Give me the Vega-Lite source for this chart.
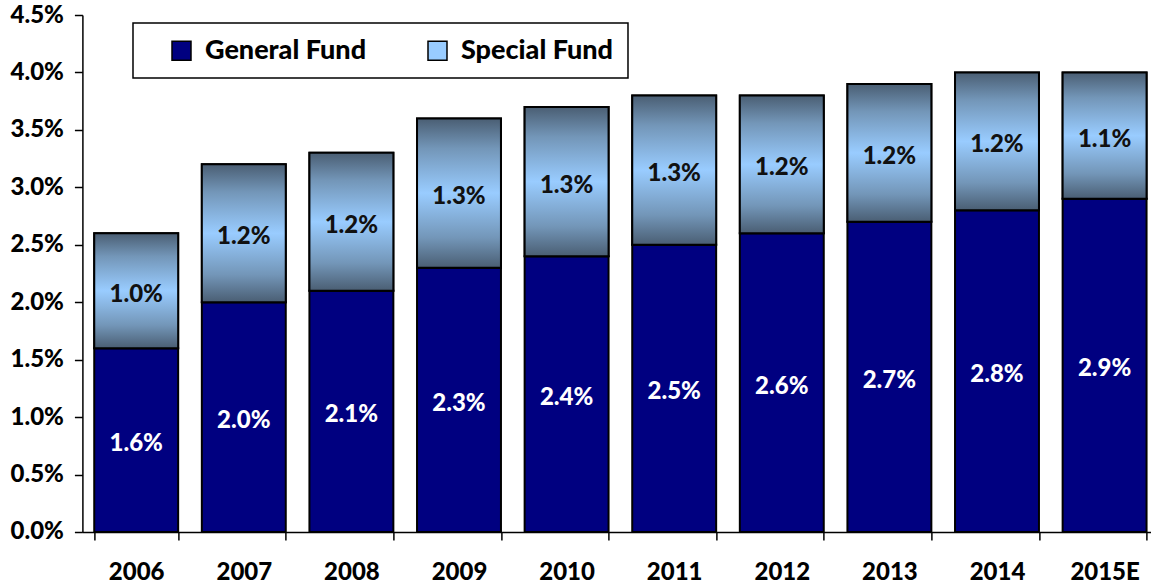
{
  "$schema": "https://vega.github.io/schema/vega-lite/v6.json",
  "autosize": "none",
  "width": 1076,
  "height": 517,
  "padding": {"left": 82.4, "top": 15, "right": 0, "bottom": 54},
  "background": "white",
  "config": {"view": {"stroke": null}},
  "data": {
    "values": [
      {"year": "2006", "fund": "General Fund", "value": 1.6, "order": 1},
      {"year": "2006", "fund": "Special Fund", "value": 1.0, "order": 2},
      {"year": "2007", "fund": "General Fund", "value": 2.0, "order": 1},
      {"year": "2007", "fund": "Special Fund", "value": 1.2, "order": 2},
      {"year": "2008", "fund": "General Fund", "value": 2.1, "order": 1},
      {"year": "2008", "fund": "Special Fund", "value": 1.2, "order": 2},
      {"year": "2009", "fund": "General Fund", "value": 2.3, "order": 1},
      {"year": "2009", "fund": "Special Fund", "value": 1.3, "order": 2},
      {"year": "2010", "fund": "General Fund", "value": 2.4, "order": 1},
      {"year": "2010", "fund": "Special Fund", "value": 1.3, "order": 2},
      {"year": "2011", "fund": "General Fund", "value": 2.5, "order": 1},
      {"year": "2011", "fund": "Special Fund", "value": 1.3, "order": 2},
      {"year": "2012", "fund": "General Fund", "value": 2.6, "order": 1},
      {"year": "2012", "fund": "Special Fund", "value": 1.2, "order": 2},
      {"year": "2013", "fund": "General Fund", "value": 2.7, "order": 1},
      {"year": "2013", "fund": "Special Fund", "value": 1.2, "order": 2},
      {"year": "2014", "fund": "General Fund", "value": 2.8, "order": 1},
      {"year": "2014", "fund": "Special Fund", "value": 1.2, "order": 2},
      {"year": "2015E", "fund": "General Fund", "value": 2.9, "order": 1},
      {"year": "2015E", "fund": "Special Fund", "value": 1.1, "order": 2}
    ]
  },
  "transform": [
    {"stack": "value", "groupby": ["year"], "sort": [{"field": "order", "order": "ascending"}], "as": ["v0", "v1"]},
    {"calculate": "(datum.v0 + datum.v1) / 2", "as": "mid"},
    {"calculate": "format(datum.value, '.1f') + '%'", "as": "label"}
  ],
  "encoding": {
    "x": {
      "field": "year",
      "type": "nominal",
      "sort": null,
      "scale": {"paddingInner": 0.22, "paddingOuter": 0.11},
      "axis": {
        "title": null,
        "labelAngle": 0,
        "labelFont": "Lato",
        "labelFontWeight": 900,
        "labelFontSize": 24,
        "labelColor": "black",
        "labelPadding": 21,
        "domainColor": "black",
        "domainWidth": 1.5,
        "tickColor": "black",
        "tickWidth": 1.5,
        "tickSize": 8,
        "tickBand": "extent"
      }
    }
  },
  "layer": [
    {
      "mark": {"type": "bar", "stroke": "black", "strokeWidth": 2},
      "encoding": {
        "y": {
          "field": "v1",
          "type": "quantitative",
          "scale": {"domain": [0, 4.5], "nice": false},
          "axis": {
            "title": null,
            "values": [0, 0.5, 1, 1.5, 2, 2.5, 3, 3.5, 4, 4.5],
            "labelExpr": "format(datum.value, '.1f') + '%'",
            "grid": false,
            "labelFont": "Lato",
            "labelFontWeight": 900,
            "labelFontSize": 24,
            "labelColor": "black",
            "labelPadding": 11,
            "domainColor": "black",
            "domainWidth": 1.5,
            "tickColor": "black",
            "tickWidth": 1.5,
            "tickSize": 8
          }
        },
        "y2": {"field": "v0"},
        "color": {
          "field": "fund",
          "type": "nominal",
          "scale": {"domain": ["General Fund", "Special Fund"], "range": ["#000080", "#99CCFF"]},
          "legend": {
            "title": null,
            "orient": "none",
            "legendX": 50.6,
            "legendY": 8,
            "direction": "horizontal",
            "fillColor": "white",
            "strokeColor": "black",
            "padding": 14,
            "symbolOffset": 21,
            "symbolType": "square",
            "symbolSize": 361,
            "symbolStrokeColor": "black",
            "symbolStrokeWidth": 1.5,
            "symbolOpacity": 1,
            "labelFont": "Lato",
            "labelFontSize": 27,
            "labelFontWeight": 900,
            "labelColor": "black",
            "labelOffset": 10,
            "labelLimit": 300,
            "columnPadding": 36,
            "encode": {"legend": {"update": {"strokeWidth": {"value": 1.5}}}}
          }
        }
      }
    },
    {
      "transform": [{"filter": "datum.fund == 'Special Fund'"}],
      "mark": {
        "type": "bar",
        "stroke": "black",
        "strokeWidth": 2,
        "fill": {
          "gradient": "linear",
          "x1": 0, "y1": 0, "x2": 0, "y2": 1,
          "stops": [
            {"offset": 0, "color": "#4A5E73"},
            {"offset": 0.2, "color": "#7396B8"},
            {"offset": 0.5, "color": "#99CCFF"},
            {"offset": 0.8, "color": "#7396B8"},
            {"offset": 1, "color": "#4A5E73"}
          ]
        }
      },
      "encoding": {
        "y": {"field": "v1", "type": "quantitative"},
        "y2": {"field": "v0"}
      }
    },
    {
      "mark": {"type": "text", "font": "Lato", "fontWeight": 900, "fontSize": 24, "baseline": "middle", "align": "center", "dy": 4},
      "encoding": {
        "y": {"field": "mid", "type": "quantitative"},
        "text": {"field": "label"},
        "color": {"condition": {"test": "datum.fund == 'General Fund'", "value": "white"}, "value": "#111111"}
      }
    }
  ]
}
